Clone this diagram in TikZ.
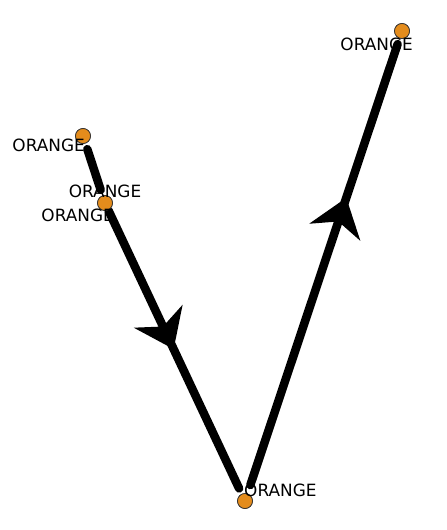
\documentclass[tikz,border=0pt]{standalone}
\usepackage{fontspec}
\setmainfont{DejaVu Sans}
\usetikzlibrary{arrows.meta,decorations.markings}
\definecolor{dotorange}{RGB}{228,140,28}
\tikzset{
  city/.style={circle,draw=black!80,line width=0.7pt,fill=dotorange,inner sep=0pt,minimum size=15pt},
  tag/.style={inner sep=0pt,font=\fontsize{16.9}{18}\selectfont},
  route/.style={line width=8.5pt,line cap=round,shorten <=6pt,shorten >=6pt},
  midarrow/.style={postaction={decorate},decoration={markings,
    mark=at position #1 with {\arrow{Stealth[length=36pt,width=53pt,inset=11pt]}}}}
}
\begin{document}
\begin{tikzpicture}[x=1pt,y=-1pt]
			\useasboundingbox (0,0) rectangle (447,530);
			% Stops
			\node[city] (a) at (83,136) {};
			\node[city] (b) at (105,203) {};
			\node[city] (c) at (245,501) {};
			\node[city] (d) at (402,31) {};

			% Route
			\draw[route] (a) -- (b);
			\draw[route,shorten <=1pt,midarrow=0.49] (b) -- (c);
			\draw[route,shorten <=9pt,midarrow=0.65] (c) -- (d);

			% Redraw stops on top
			\node[city] at (a) {};
			\node[city] at (b) {};
			\node[city] at (c) {};
			\node[city] at (d) {};

			% Names
			\node[tag,anchor=east] (a-tag) at (85,145) {ORANGE};
			\node[tag] (b-tag1) at (105,191) {ORANGE};
			\node[tag,anchor=east] (b-tag2) at (114,215) {ORANGE};
			\node[tag,anchor=west] (c-tag) at (244,490) {ORANGE};
			\node[tag,anchor=east] (d-tag) at (413,44) {ORANGE};
\end{tikzpicture}
\end{document}
